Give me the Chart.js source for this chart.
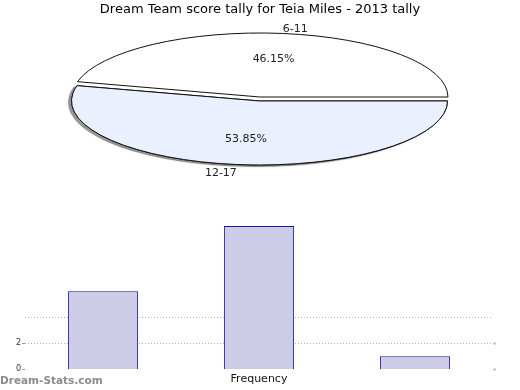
<!DOCTYPE html>
<html>
<head>
<meta charset="utf-8">
<script src="https://cdn.jsdelivr.net/npm/chart.js@4"></script>
<style>
    html, body { margin: 0; padding: 0; background: #fff; }
    #wrap { position: relative; width: 520px; height: 390px; overflow: hidden; }
    #pie { position: absolute; left: 0; top: 0; }
    #bars { position: absolute; left: 0; top: 200px; }
    #mark {
        position: absolute; left: 0; top: 374px; line-height: 12px;
        font: bold 10.5px "DejaVu Sans", sans-serif; color: #8c8c8c;
    }
</style>
</head>
<body>
<div id="wrap">
    <canvas id="pie" width="520" height="200"></canvas>
    <canvas id="bars" width="520" height="190"></canvas>
    <div id="mark">Dream-Stats.com</div>
</div>
<script>
const chartTitle = "Dream Team score tally for Teia Miles - 2013 tally";
const pieLabels = ["6-11", "12-17"];
const pieValues = [6, 7];
const pieColors = ["#ffffff", "#eaf0fd"];
const pieExplode = [0, 4];

const barCategories = ["Bin 1", "Bin 2", "Bin 3"];
const barValues = [6, 11, 1];
const barAxisTitle = "Frequency";
const yLabelled = [0, 2];
const yGridAt = [2, 4];

Chart.defaults.font.family = "'DejaVu Sans', sans-serif";
Chart.defaults.color = "#222";

const pieTotal = pieValues.reduce((a, b) => a + b, 0);

// squash the round pie into the chart area's ellipse, strokes stay 1px
const ellipsePie = {
    id: "ellipsePie",
    beforeDatasetsDraw(chart) {
        const ctx = chart.ctx, ca = chart.chartArea;
        const cx = (ca.left + ca.right) / 2, cy = (ca.top + ca.bottom) / 2;
        const rx = ca.width / 2, ry = ca.height / 2;
        const meta = chart.getDatasetMeta(0);

        meta.data.forEach((arc, i) => {
            const mid = (arc.startAngle + arc.endAngle) / 2;
            const ex = pieExplode[i] || 0;
            ctx.save();
            ctx.translate(cx + Math.cos(mid) * ex, cy + Math.sin(mid) * ex);
            ctx.scale(rx / arc.outerRadius, ry / arc.outerRadius);
            ctx.translate(-arc.x, -arc.y);
            const orig = CanvasRenderingContext2D.prototype.stroke;
            ctx.stroke = function () {
                this.save();
                this.setTransform(1, 0, 0, 1, 0, 0);
                orig.apply(this, arguments);
                this.restore();
            };
            if (ex) {
                ctx.save();
                ctx.shadowColor = "rgba(0,0,0,0.4)";
                ctx.shadowOffsetX = -3;
                ctx.shadowOffsetY = 1.5;
                ctx.shadowBlur = 1;
                arc.draw(ctx);
                ctx.restore();
            }
            arc.draw(ctx);
            delete ctx.stroke;
            ctx.restore();
        });
        return false;
    },
    afterDraw(chart) {
        const ctx = chart.ctx, ca = chart.chartArea;
        const cx = (ca.left + ca.right) / 2, cy = (ca.top + ca.bottom) / 2;
        const rx = ca.width / 2, ry = ca.height / 2;
        const meta = chart.getDatasetMeta(0);
        ctx.save();
        ctx.font = "11px 'DejaVu Sans', sans-serif";
        ctx.fillStyle = "#222";
        meta.data.forEach((arc, i) => {
            const mid = (arc.startAngle + arc.endAngle) / 2;
            const c = Math.cos(mid), s = Math.sin(mid);
            const ex = pieExplode[i] || 0;
            const ox = cx + c * ex, oy = cy + s * ex;
            const pct = (pieValues[i] / pieTotal * 100).toFixed(2) + "%";
            ctx.textAlign = "center";
            ctx.textBaseline = "middle";
            ctx.fillText(pct, ox + c * rx * 0.6, oy + s * ry * 0.6);
            ctx.textAlign = c >= 0 ? "left" : "right";
            ctx.textBaseline = s < 0 ? "bottom" : "top";
            ctx.fillText(pieLabels[i], ox + c * rx, oy + s * ry + (s < 0 ? 1 : 3));
        });
        ctx.restore();
    }
};

new Chart(document.getElementById("pie"), {
    type: "pie",
    data: {
        labels: pieLabels,
        datasets: [{
            data: pieValues,
            backgroundColor: pieColors,
            borderColor: "#111",
            borderWidth: 1,
            borderJoinStyle: "miter",
        }]
    },
    options: {
        responsive: false,
        animation: false,
        rotation: 90 - pieValues[0] / pieTotal * 360,
        layout: { padding: { left: 72, right: 72, top: 0, bottom: 39 } },
        plugins: {
            legend: { display: false },
            tooltip: { enabled: false },
            title: {
                display: true,
                text: chartTitle,
                color: "#000",
                font: { size: 13, weight: "normal" },
                padding: { top: 2, bottom: 15.4 },
            }
        }
    },
    plugins: [ellipsePie]
});

new Chart(document.getElementById("bars"), {
    type: "bar",
    data: {
        labels: barCategories,
        datasets: [{
            data: barValues,
            backgroundColor: "#ccccE6",
            borderColor: "#16169a",
            borderWidth: 1,
            barPercentage: 0.45,
            categoryPercentage: 1,
        }]
    },
    options: {
        responsive: false,
        animation: false,
        layout: { padding: { left: 0, right: 24, top: 13, bottom: 4 } },
        plugins: { legend: { display: false }, tooltip: { enabled: false } },
        scales: {
            x: {
                ticks: { display: false },
                grid: { display: false, drawTicks: false },
                border: { display: false },
                title: {
                    display: true,
                    text: barAxisTitle,
                    color: "#111",
                    font: { size: 11 },
                    padding: { top: 3.4, bottom: 0 },
                }
            },
            y: {
                min: 0,
                max: 12,
                afterFit: (s) => { s.width = 25; },
                ticks: {
                    stepSize: 2,
                    padding: 1,
                    color: "#333",
                    font: { size: 8 },
                    callback: (v) => yLabelled.includes(v) ? String(v) : "",
                },
                grid: {
                    tickLength: 3,
                    color: (c) => yGridAt.includes(c.tick.value) ? "#b4b4b4" : "rgba(0,0,0,0)",
                    tickColor: (c) => yLabelled.includes(c.tick.value) ? "#999" : "rgba(0,0,0,0)",
                    borderDash: [1, 2],
                },
                border: { display: false, dash: [1, 2] },
            },
            y2: {
                position: "right",
                min: 0,
                max: 12,
                ticks: { display: false, stepSize: 2 },
                grid: {
                    drawOnChartArea: false,
                    tickLength: 3,
                    tickWidth: 2,
                    tickColor: (c) => yLabelled.includes(c.tick.value) ? "#c4c4c4" : "rgba(0,0,0,0)",
                },
                border: { display: false },
            }
        }
    }
});
</script>
</body>
</html>
